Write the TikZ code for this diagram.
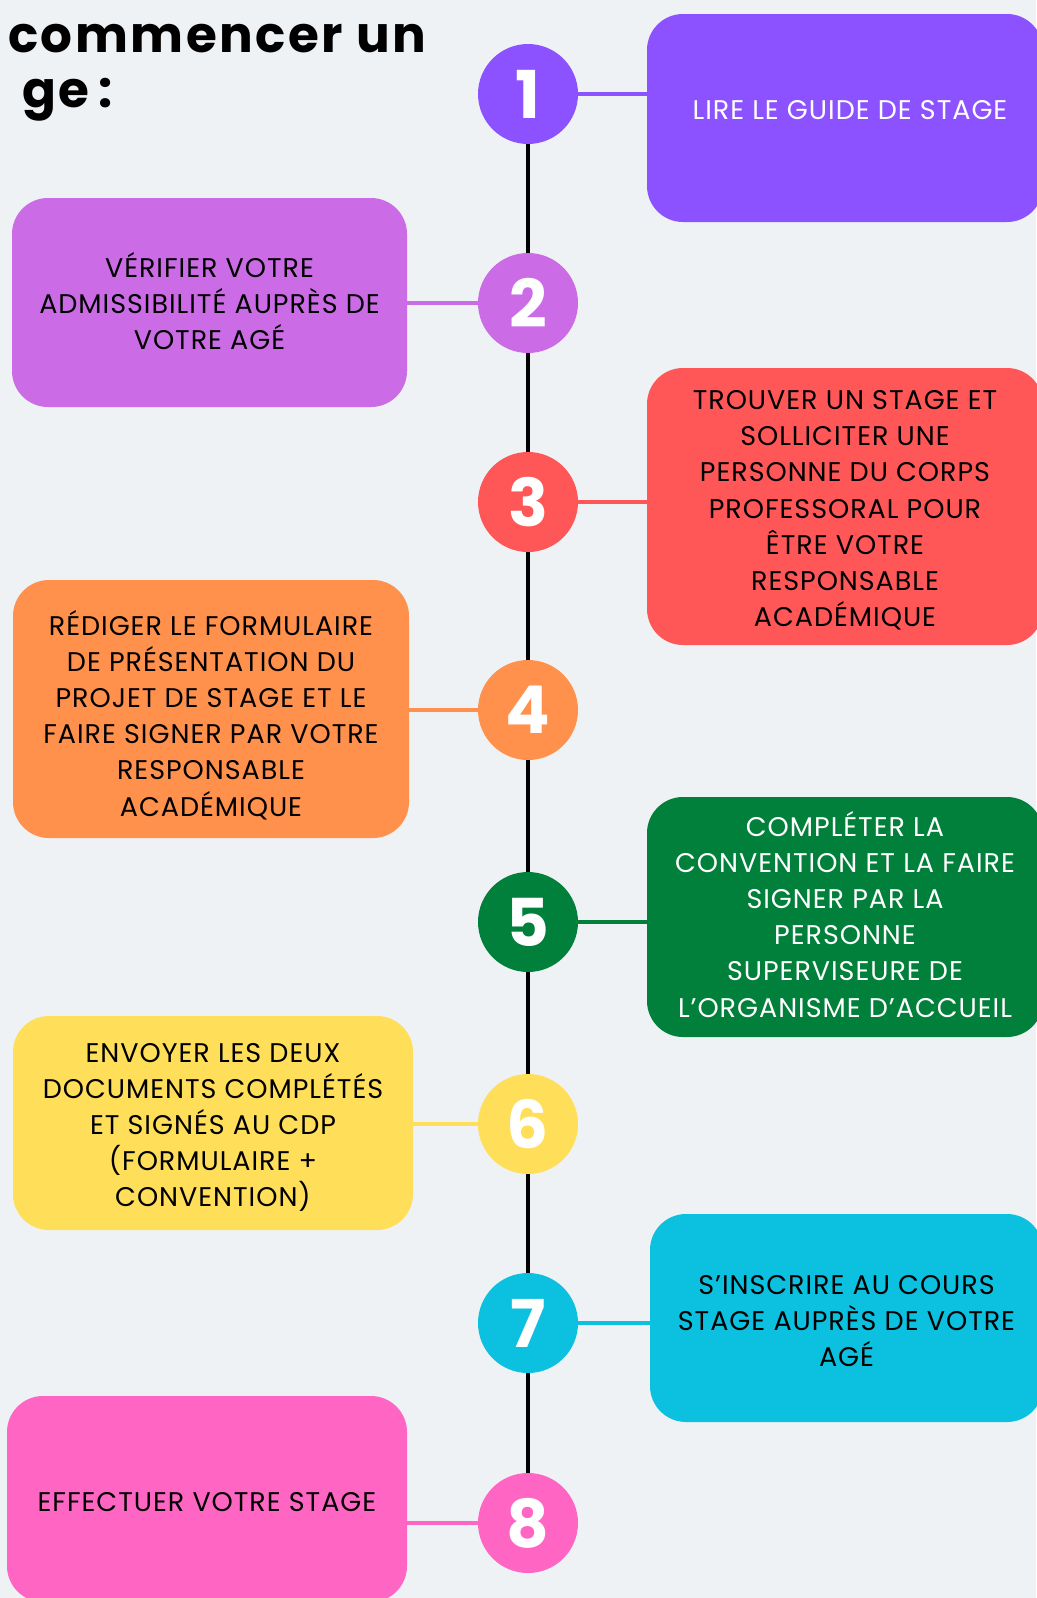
\documentclass[tikz,border=0pt]{standalone}
\usepackage{fontspec}
\setmainfont{Poppins}
\newfontfamily\etapefam{Poppins}[LetterSpace=3.6]
\newfontfamily\titrefam{Poppins}[LetterSpace=5]
\usetikzlibrary{positioning}

\definecolor{fond}{HTML}{EEF2F5}
\definecolor{coulA}{HTML}{8C52FF}
\definecolor{coulB}{HTML}{CB6CE6}
\definecolor{coulC}{HTML}{FF5757}
\definecolor{coulD}{HTML}{FF914D}
\definecolor{coulE}{HTML}{00803A}
\definecolor{coulF}{HTML}{FFDE59}
\definecolor{coulG}{HTML}{0CC0DF}
\definecolor{coulH}{HTML}{FF66C4}

\newcommand{\etapefont}{\etapefam\fontsize{27}{36.2}\selectfont}
\newcommand{\numfont}{\fontsize{66}{66}\selectfont\bfseries}
\newcommand{\titrefont}{\titrefam\fontsize{50}{55}\selectfont\bfseries}
\newcommand{\lh}{\rule[-9.5pt]{0pt}{38pt}}

\begin{document}
\begin{tikzpicture}[x=1pt, y=-1pt,
  etape/.style={rounded corners=36pt, inner sep=0pt, align=center, font=\etapefont},
  num/.style={circle, minimum size=100pt, inner sep=0pt, text=white, font=\numfont},
  lien/.style={line width=4pt},
  axe/.style={line width=4pt, black}]
\path[use as bounding box, fill=fond] (0,0) rectangle (1036,1598);

\node[anchor=base west, font=\titrefont] (T1) at (4.5,52) {commencer un};
\node[anchor=base west, font=\titrefont] (T2) at (19,107) {ge\kern-4pt{} :};

\node[num, fill=coulA] (N1) at (528,94) {1};
\node[num, fill=coulB] (N2) at (528,303) {2};
\node[num, fill=coulC] (N3) at (528,502) {3};
\node[num, fill=coulD] (N4) at (528,710) {4};
\node[num, fill=coulE] (N5) at (528,922) {5};
\node[num, fill=coulF] (N6) at (528,1124) {6};
\node[num, fill=coulG] (N7) at (528,1323) {7};
\node[num, fill=coulH] (N8) at (528,1523) {8};

\node[etape, fill=coulA, text=white, minimum width=396pt, minimum height=208pt] (B1) at (845,118)
  {\hspace*{10pt}\rule[-25.5pt]{0pt}{54pt}LIRE LE GUIDE DE STAGE};
\node[etape, fill=coulB, minimum width=395pt, minimum height=209pt] (B2) at (209.5,302.5)
  {\rule[-9.5pt]{0pt}{41pt}VÉRIFIER VOTRE\\ADMISSIBILITÉ AUPRÈS DE\\VOTRE AGÉ\lh};
\node[etape, fill=coulC, minimum width=396pt, minimum height=277pt] (B3) at (845,506.5)
  {\rule[-9.5pt]{0pt}{42pt}TROUVER UN STAGE ET\\SOLLICITER UNE\\PERSONNE DU CORPS\\PROFESSORAL POUR\\ÊTRE VOTRE\\RESPONSABLE\\ACADÉMIQUE\lh};
\node[etape, fill=coulD, minimum width=396pt, minimum height=258pt] (B4) at (211,709)
  {\rule[-9.5pt]{0pt}{52pt}RÉDIGER LE FORMULAIRE\\DE PRÉSENTATION DU\\PROJET DE STAGE ET LE\\FAIRE SIGNER PAR VOTRE\\RESPONSABLE\\ACADÉMIQUE\lh};
\node[etape, fill=coulE, text=white, minimum width=396pt, minimum height=240pt] (B5) at (845,917)
  {\lh COMPLÉTER LA\\CONVENTION ET LA FAIRE\\SIGNER PAR LA\\PERSONNE\\SUPERVISEURE DE\\L’ORGANISME D’ACCUEIL\lh};
\node[etape, fill=coulF, minimum width=400pt, minimum height=214pt] (B6) at (213,1123)
  {\rule[-9.5pt]{0pt}{42pt}ENVOYER LES DEUX\\DOCUMENTS COMPLÉTÉS\\ET SIGNÉS AU CDP\\(FORMULAIRE +\\CONVENTION)\lh};
\node[etape, fill=coulG, minimum width=393pt, minimum height=208pt] (B7) at (846.5,1318)
  {\rule[-9.5pt]{0pt}{44pt}S’INSCRIRE AU COURS\\STAGE AUPRÈS DE VOTRE\\AGÉ\lh};
\node[etape, fill=coulH, minimum width=400pt, minimum height=206pt] (B8) at (207,1499)
  {\rule[-9.5pt]{0pt}{44pt}EFFECTUER VOTRE STAGE};

% ligne du temps
\draw[axe] (N1) -- (N2) -- (N3) -- (N4) -- (N5) -- (N6) -- (N7) -- (N8);

\draw[lien, coulA] (N1.east) -- (N1.east -| B1.west);
\draw[lien, coulB] (N2.west) -- (N2.west -| B2.east);
\draw[lien, coulC] (N3.east) -- (N3.east -| B3.west);
\draw[lien, coulD] (N4.west) -- (N4.west -| B4.east);
\draw[lien, coulE] (N5.east) -- (N5.east -| B5.west);
\draw[lien, coulF] (N6.west) -- (N6.west -| B6.east);
\draw[lien, coulG] (N7.east) -- (N7.east -| B7.west);
\draw[lien, coulH] (N8.west) -- (N8.west -| B8.east);
\end{tikzpicture}
\end{document}
